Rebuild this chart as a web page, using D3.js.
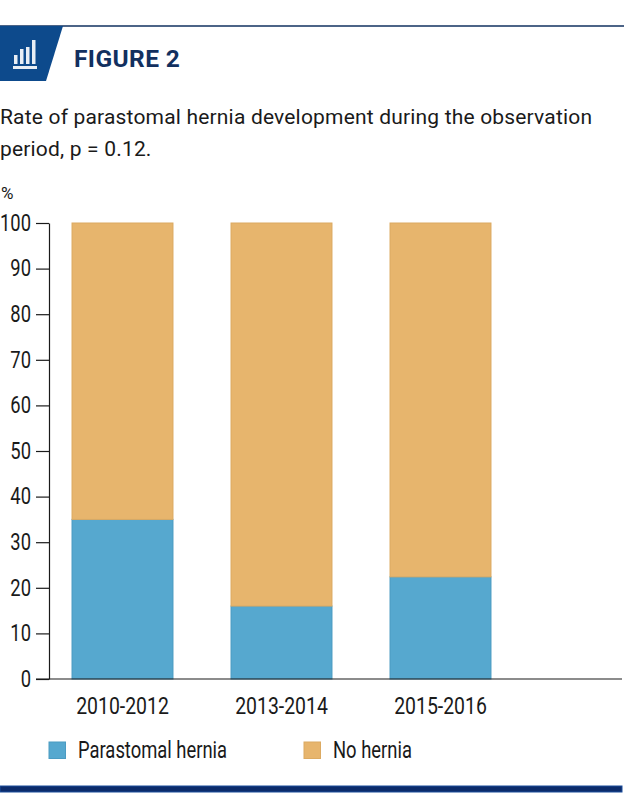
<!DOCTYPE html>
<html>
<head>
<meta charset="utf-8">
<script src="https://cdn.jsdelivr.net/npm/d3@7"></script>
<style>
  html, body { margin: 0; padding: 0; background: #fff; }
  svg { display: block; }
  .narrow { font-family: "Roboto", sans-serif; fill: #1a1a1a; }
</style>
</head>
<body>
<div id="chart"></div>
<script>
const periods = ["2010-2012", "2013-2014", "2015-2016"];
const herniaValues = [35, 16, 22.4];
const noHerniaValues = [65, 84, 77.6];
const yTicks = [0, 10, 20, 30, 40, 50, 60, 70, 80, 90, 100];
const seriesNames = ["Parastomal hernia", "No hernia"];
const seriesColors = ["#56a8cf", "#e7b56d"];
const seriesEdges = ["#4b9bc2", "#dcaa62"];

const svg = d3.select("#chart").append("svg")
    .attr("width", 624)
    .attr("height", 800);

// header
svg.append("line")
    .attr("x1", 0).attr("x2", 624).attr("y1", 26).attr("y2", 26)
    .attr("stroke", "#10305f").attr("stroke-width", 1.5);
svg.append("path")
    .attr("d", "M0,26H63L46,81H0Z")
    .attr("fill", "#0d4a8c");

// chart icon in the badge
let icon = svg.append("g").attr("fill", "#e8eef5");
[[14, 55, 3.5, 9], [20, 49, 3.5, 15], [26, 47, 3.5, 17], [32, 40, 3.5, 24]].forEach(function (b) {
    icon.append("rect").attr("x", b[0]).attr("y", b[1]).attr("width", b[2]).attr("height", b[3]);
});
icon.append("rect").attr("x", 13).attr("y", 66).attr("width", 24).attr("height", 3);

svg.append("text")
    .attr("x", 74).attr("y", 67)
    .style("font-family", "Roboto, sans-serif")
    .style("font-weight", 700)
    .style("font-size", "24.5px")
    .style("letter-spacing", "0.4px")
    .attr("fill", "#12305f")
    .text("FIGURE 2");

let subtitle = svg.append("g")
    .style("font-family", "Roboto, sans-serif")
    .style("font-size", "21px")
    .style("letter-spacing", "0.18px")
    .attr("fill", "#1a1a1a");
subtitle.append("text").attr("x", 0).attr("y", 124)
    .text("Rate of parastomal hernia development during the observation");
subtitle.append("text").attr("x", 0).attr("y", 156)
    .text("period, p = 0.12.");

svg.append("text")
    .attr("x", 1).attr("y", 199)
    .style("font-family", "Roboto, sans-serif")
    .style("font-size", "17px")
    .attr("fill", "#1a1a1a")
    .text("%");

// scales
let x = d3.scaleBand()
    .domain(periods)
    .range([43, 520])
    .paddingInner(0.365)
    .paddingOuter(0.1825);
let y = d3.scaleLinear().domain([0, 100]).range([679, 223]);

// stacked bars
let rows = periods.map(function (p, i) {
    return { period: p, hernia: herniaValues[i], none: noHerniaValues[i] };
});
let stacked = d3.stack().keys(["hernia", "none"])(rows);

svg.selectAll(".series")
    .data(stacked)
    .enter().append("g")
    .attr("class", "series")
    .attr("fill", function (d, i) { return seriesColors[i]; })
    .attr("stroke", function (d, i) { return seriesEdges[i]; })
    .selectAll("rect")
    .data(function (d) { return d; })
    .enter().append("rect")
    .attr("x", function (d) { return x(d.data.period); })
    .attr("y", function (d) { return y(d[1]); })
    .attr("width", x.bandwidth())
    .attr("height", function (d) { return y(d[0]) - y(d[1]); });

// no condensed font installed, so squeeze the labels horizontally
const squeeze = 0.8;

// axes
let yAxis = svg.append("g")
    .attr("transform", "translate(49,0)")
    .call(d3.axisLeft(y).tickValues(yTicks).tickSize(13).tickPadding(3).tickSizeOuter(0));
yAxis.selectAll("text")
    .attr("class", "narrow")
    .attr("x", -18 / squeeze)
    .attr("transform", "scale(" + squeeze + ",1)")
    .style("font-size", "23px");
yAxis.selectAll("line, path").attr("stroke", "#1a1a1a").attr("stroke-width", 1.2);

let xAxis = svg.append("g")
    .attr("transform", "translate(0,679)");
xAxis.append("line")
    .attr("x1", 36).attr("x2", 622)
    .attr("stroke", "#1a1a1a").attr("stroke-width", 1.2);
xAxis.selectAll("text")
    .data(periods)
    .enter().append("text")
    .attr("class", "narrow")
    .attr("transform", function (d) {
        return "translate(" + (x(d) + x.bandwidth() / 2) + ",35) scale(0.845,1)";
    })
    .attr("text-anchor", "middle")
    .style("font-size", "23px")
    .text(function (d) { return d; });

// legend
let legendX = d3.scaleOrdinal().domain(seriesNames).range([49, 304]);
let legend = svg.selectAll(".legend")
    .data(seriesNames)
    .enter().append("g")
    .attr("class", "legend")
    .attr("transform", function (d) { return "translate(" + legendX(d) + ",742)"; });
legend.append("rect")
    .attr("width", 16.5).attr("height", 16.5)
    .attr("fill", function (d, i) { return seriesColors[i]; })
    .attr("stroke", function (d, i) { return seriesEdges[i]; });
legend.append("text")
    .attr("class", "narrow")
    .attr("transform", "translate(29,16) scale(" + squeeze + ",1)")
    .style("font-size", "23px")
    .text(function (d) { return d; });

// footer rule
svg.append("rect")
    .attr("x", 0).attr("y", 786).attr("width", 622).attr("height", 6)
    .attr("fill", "#0b2b6b")
    .attr("stroke", "#1c4f9c");
</script>
</body>
</html>
